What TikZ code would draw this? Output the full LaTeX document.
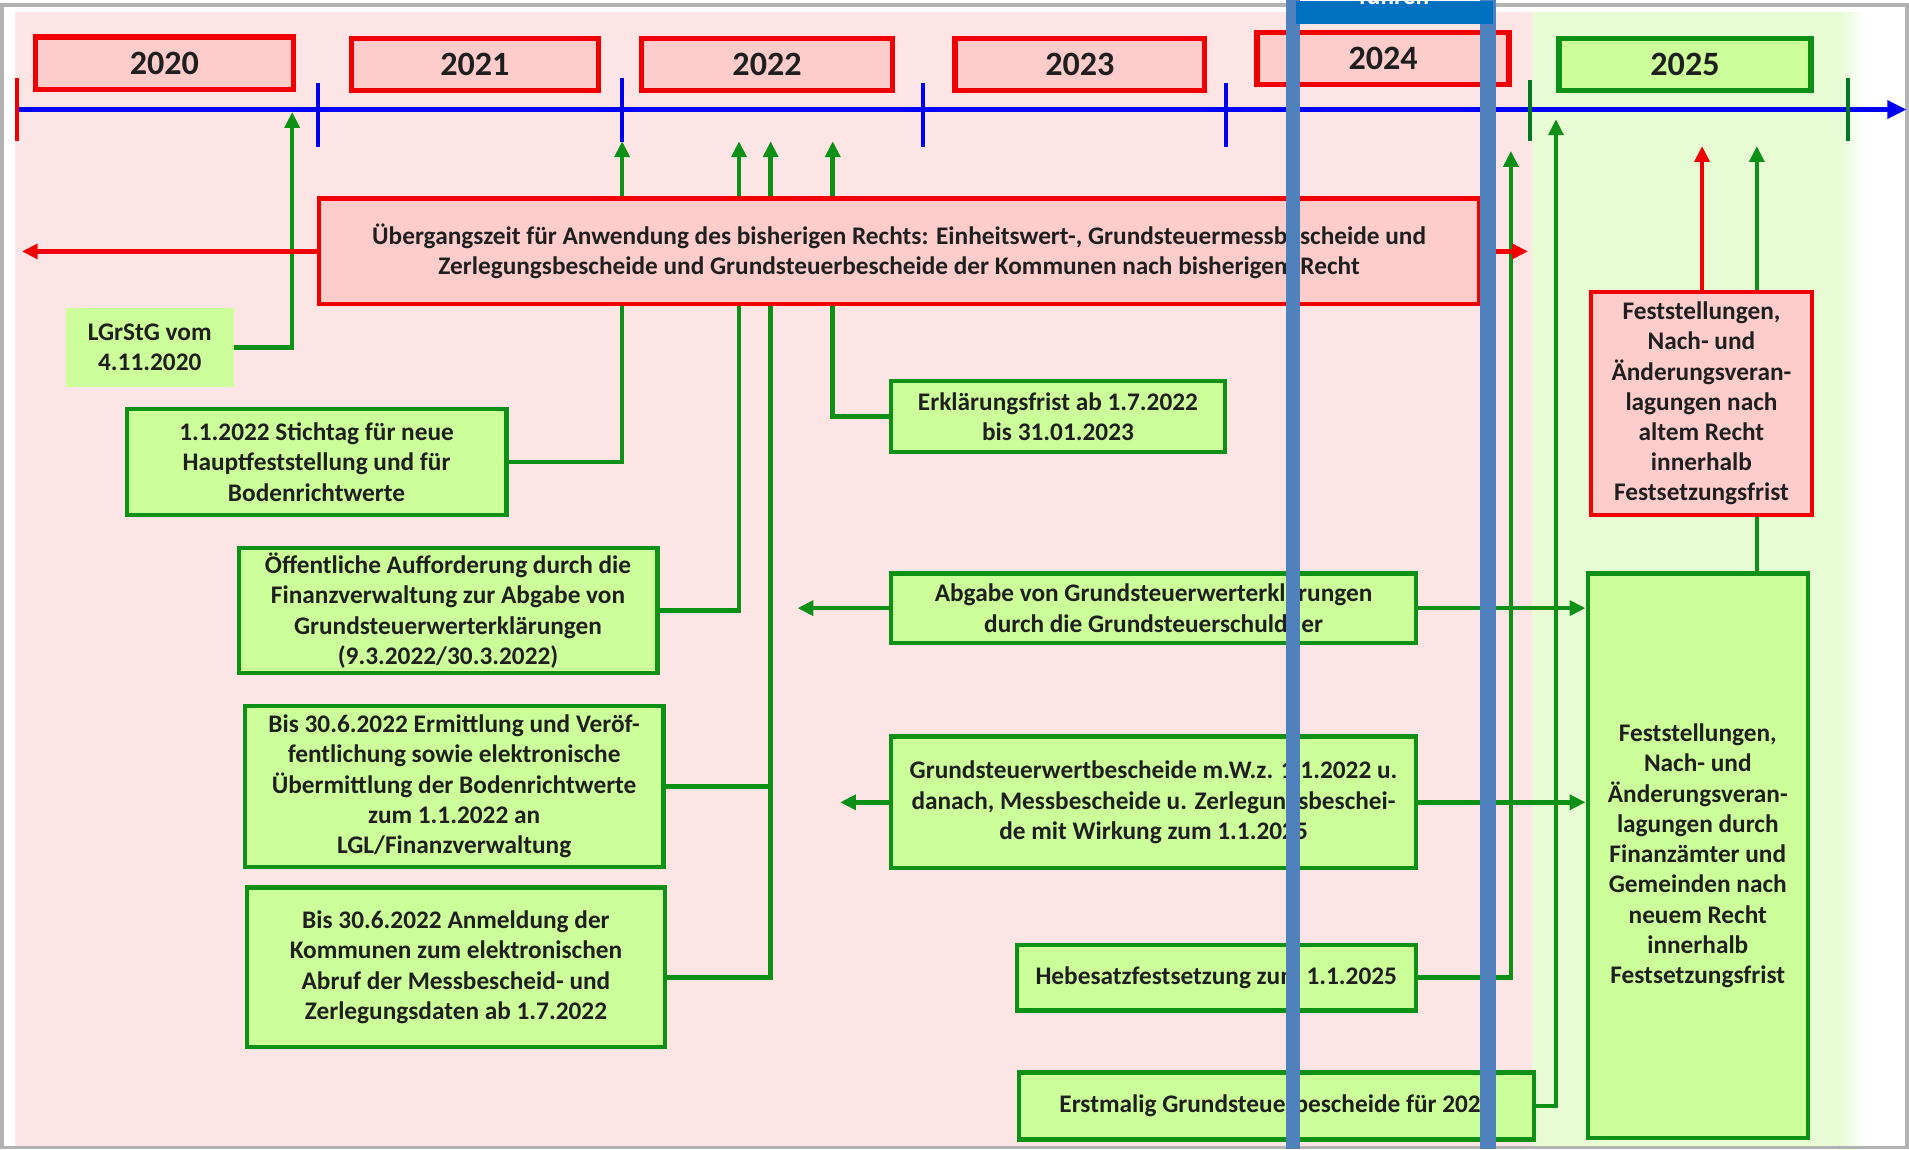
\documentclass[tikz,border=0pt]{standalone}
\usepackage{fontspec}
\setmainfont{Carlito}
\usetikzlibrary{arrows.meta}
\definecolor{bgpink}{RGB}{253,229,229}
\definecolor{bggreen}{RGB}{231,251,212}
\definecolor{boxpink}{RGB}{255,204,204}
\definecolor{boxgreen}{RGB}{204,255,153}
\definecolor{lred}{RGB}{240,0,0}
\definecolor{lgreen}{RGB}{12,145,22}
\definecolor{tgreen}{RGB}{0,120,40}
\definecolor{tblue}{RGB}{0,0,245}
\definecolor{barblue}{RGB}{79,129,189}
\definecolor{capblue}{RGB}{0,112,192}
\providecommand{\unitpx}{0.12175mm}

\begin{document}
\begin{tikzpicture}[x=\unitpx, y=-\unitpx,
  every node/.style={font=\bfseries\fontsize{7.2}{8.6}\selectfont, text=black!88, align=center, inner sep=0pt},
  sz/.style 2 args={minimum width=#1*\unitpx, minimum height=#2*\unitpx},
  gbox/.style={draw=lgreen, fill=boxgreen, line width=1.2pt},
  rbox/.style={draw=lred, fill=boxpink, line width=1.2pt},
  yearbox/.style={line width=1.5pt, font=\bfseries\fontsize{9.7}{11}\selectfont},
  gline/.style={draw=lgreen, line width=1.3pt},
  garrow/.style={gline, -{Triangle[width=4.2pt,length=4.5pt]}},
  rarrow/.style={draw=lred, line width=1.3pt, -{Triangle[width=4.2pt,length=4.5pt]}}]
  \useasboundingbox (0,0) rectangle (1568,944);
  % background
  \fill[white] (0,0) rectangle (1568,944);
  \fill[bgpink] (12,10) rectangle (1262,944);
  \fill[bggreen] (1258,10) rectangle (1512,944);
  \shade[left color=bggreen, right color=white] (1511,10) rectangle (1532,944);
  \draw[gray!60, line width=1.1pt] (1.5,4) rectangle (1566.5,942.5);
  % years
  \foreach \x/\y/\w/\yr/\c/\f in {135/52/212/2020/lred/boxpink, 390/53/203/2021/lred/boxpink,
      630/53/206/2022/lred/boxpink, 887/53/205/2023/lred/boxpink,
      1136/48/207/2024/lred/boxpink, 1384/53/207/2025/lgreen/boxgreen}
    \node[yearbox, draw=\c, fill=\f, sz={\w}{43}] (y\yr) at (\x,\y) {\yr};
  % time axis
  \draw[tblue, line width=1.5pt, -{Triangle[width=5pt,length=5.5pt]}] (14,90) -- (1566,90);
  \foreach \x/\ya/\yb/\c in {14/64/116/lred, 261/68/121/tblue, 511/64/117/tblue, 758/68/121/tblue,
      1007/68/121/tblue, 1257/66/116/tgreen, 1518/64/116/tgreen}
    \draw[\c, line width=1.1pt] (\x,\ya) -- (\x,\yb);
  \coordinate (tipA) at (240,92);
  \coordinate (tipB) at (511,116);
  \coordinate (tipC) at (607,116);
  \coordinate (tipD) at (633,116);
  \coordinate (tipE) at (684,116);
  \coordinate (tipF) at (1241,124);
  \coordinate (tipG) at (1278,98);
  \coordinate (tipH) at (1443,120);
  \coordinate (tipI) at (655,499.5);
  \coordinate (tipJ) at (690,659);
  \coordinate (tipK) at (18,206.5);
  \coordinate (tipL) at (1255,206.5);
  \coordinate (tipM) at (1398,120);
  % events
  \node[fill=boxgreen, sz={138}{65}] (lgrstg) at (123,285.5) {LGrStG vom\\4.11.2020};
  \node[gbox, sz={312}{87}] (stichtag) at (260,379.5) {1.1.2022 Stichtag für neue\\Hauptfeststellung und für\\Bodenrichtwerte};
  \node[gbox, sz={344}{103}] (aufford) at (368,501.5) {Öffentliche Aufforderung durch die\\Finanzverwaltung zur Abgabe von\\Grundsteuerwerterklärungen\\(9.3.2022/30.3.2022)};
  \node[gbox, sz={344}{132}] (ermitt) at (373,646) {Bis 30.6.2022 Ermittlung und Veröf-\\fentlichung sowie elektronische\\Übermittlung der Bodenrichtwerte\\zum 1.1.2022 an\\LGL/Finanzverwaltung};
  \node[gbox, sz={343}{131}] (anmeld) at (374.5,794.5) {Bis 30.6.2022 Anmeldung der\\Kommunen zum elektronischen\\Abruf der Messbescheid- und\\Zerlegungsdaten ab 1.7.2022};
  \node[gbox, sz={274}{58}] (erkl) at (869,342) {Erklärungsfrist ab 1.7.2022\\bis 31.01.2023};
  \node[gbox, sz={431}{57}] (abgabe) at (947.5,499.5) {Abgabe von Grundsteuerwerterklärungen\\durch die Grundsteuerschuldner};
  \node[gbox, sz={431}{108}] (wertbesch) at (947.5,659) {Grundsteuerwertbescheide m.W.z. 1.1.2022 u.\\danach, Messbescheide u. Zerlegungsbeschei-\\de mit Wirkung zum 1.1.2025};
  \node[gbox, sz={328}{54}] (hebesatz) at (999,803) {Hebesatzfestsetzung zum 1.1.2025};
  \node[gbox, sz={423}{55}] (erstmalig) at (1048.5,908.5) {Erstmalig Grundsteuerbescheide für 2025};
  \node[gbox, sz={181}{464}] (neurecht) at (1394.5,703) {Feststellungen,\\Nach- und\\Änderungsveran-\\lagungen durch\\Finanzämter und\\Gemeinden nach\\neuem Recht\\innerhalb\\Festsetzungsfrist};
  % links to the axis
  \draw[garrow] (lgrstg.east) -| (tipA);
  \draw[garrow] (stichtag.east) -| (tipB);
  \draw[garrow] (aufford.east) -| (tipC);
  \draw[garrow] ([yshift=-1mm]anmeld.east) -| (tipD);
  \draw[gline] (ermitt.east) -- (ermitt.east -| tipD);
  \draw[garrow] (erkl.west) -| (tipE);
  \draw[garrow] (hebesatz.east) -| (tipF);
  \draw[garrow] (erstmalig.east) -| (tipG);
  \draw[garrow] (neurecht.north -| tipH) -- (tipH);
  \draw[garrow] (abgabe.west) -- (tipI);
  \draw[garrow] (wertbesch.west) -- (tipJ);
  \draw[garrow] (abgabe.east) -- (abgabe.east -| neurecht.west);
  \draw[garrow] (wertbesch.east) -- (wertbesch.east -| neurecht.west);
  % old law
  \node[rbox, sz={953}{87}] (uebergang) at (738.5,206.5) {Übergangszeit für Anwendung des bisherigen Rechts: Einheitswert-, Grundsteuermessbescheide und\\Zerlegungsbescheide und Grundsteuerbescheide der Kommunen nach bisherigem Recht};
  \node[rbox, sz={181}{183}] (altrecht) at (1397.5,331.5) {Feststellungen,\\Nach- und\\Änderungsveran-\\lagungen nach\\altem Recht\\innerhalb\\Festsetzungsfrist};
  \draw[rarrow] (uebergang.west) -- (tipK);
  \draw[rarrow] (uebergang.east) -- (tipL);
  \draw[rarrow] (altrecht.north -| tipM) -- (tipM);
  % overlay
  \fill[barblue] (1056,0) rectangle (1068,944);
  \fill[barblue] (1216,0) rectangle (1229,944);
  \node[fill=capblue, sz={162}{19}, anchor=north west] (cap) at (1064,0) {};
  \begin{scope}
    \clip (1064,0) rectangle (1226,19);
    \node[text=white, anchor=base] (captxt) at (1145,4) {führen};
  \end{scope}
\end{tikzpicture}
\end{document}
